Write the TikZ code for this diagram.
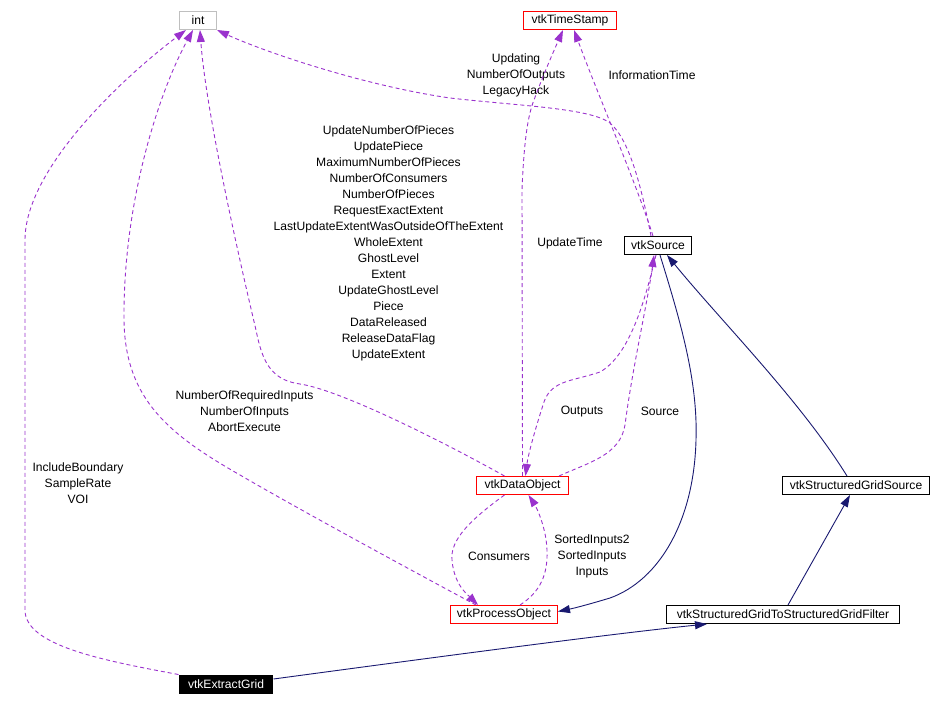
\documentclass[tikz,border=0pt]{standalone}
\usepackage{fontspec}
\setmainfont{Liberation Sans}
\usetikzlibrary{arrows.meta}
\definecolor{dpurple}{HTML}{9A32CD}
\definecolor{dnavy}{HTML}{191970}
\definecolor{dgray}{HTML}{BFBFBF}
\tikzset{
  cls/.style={draw, line width=1pt, minimum height=18pt, inner sep=0pt, font=\fontsize{12.1}{16}\selectfont},
  redbox/.style={cls, draw=red},
  blkbox/.style={cls, draw=black},
  graybox/.style={cls, draw=dgray},
  fillbox/.style={cls, draw=none, fill=black, text=white, minimum height=19pt},
  lbl/.style={align=center, inner sep=0pt, font=\fontsize{12.1}{16}\selectfont},
  use/.style={draw=dpurple, line width=0.9pt, dash pattern=on 4pt off 3pt, -{Triangle[length=12pt,width=8pt,fill=dpurple]}},
  inh/.style={draw=dnavy, line width=0.9pt, -{Triangle[length=12pt,width=8pt,fill=dnavy]}}
}
\begin{document}
\begin{tikzpicture}[x=1pt,y=-1pt]
\useasboundingbox (0,0) rectangle (932,706);
% nodes
\node[graybox, minimum width=37pt] (int) at (198,20.5) {int};
\node[redbox, minimum width=93pt] (ts) at (570,20.5) {vtkTimeStamp};
\node[blkbox, minimum width=67pt] (src) at (658,245.5) {vtkSource};
\node[redbox, minimum width=92pt] (dob) at (522.5,485.5) {vtkDataObject};
\node[redbox, minimum width=107pt] (po) at (504,614.5) {vtkProcessObject};
\node[blkbox, minimum width=147pt] (sgs) at (856,485.5) {vtkStructuredGridSource};
\node[blkbox, minimum width=233pt] (sgf) at (783,614.5) {vtkStructuredGridToStructuredGridFilter};
\node[fillbox, minimum width=94pt] (eg) at (226,684.5) {vtkExtractGrid};
% labels
\node[lbl] (l1) at (516,75) {Updating\\NumberOfOutputs\\LegacyHack};
\node[lbl] (l2) at (652,75) {InformationTime};
\node[lbl] (l3) at (388.5,243.5) {UpdateNumberOfPieces\\UpdatePiece\\MaximumNumberOfPieces\\NumberOfConsumers\\NumberOfPieces\\RequestExactExtent\\LastUpdateExtentWasOutsideOfTheExtent\\WholeExtent\\GhostLevel\\Extent\\UpdateGhostLevel\\Piece\\DataReleased\\ReleaseDataFlag\\UpdateExtent};
\node[lbl] (l4) at (570,243.5) {UpdateTime};
\node[lbl] (l5) at (244.5,411.5) {NumberOfRequiredInputs\\NumberOfInputs\\AbortExecute};
\node[lbl] (l6) at (78,483.5) {IncludeBoundary\\SampleRate\\VOI};
\node[lbl] (l7) at (582,411.5) {Outputs};
\node[lbl] (l8) at (660,411.5) {Source};
\node[lbl] (l9) at (499,556) {Consumers};
\node[lbl] (l10) at (592,556) {SortedInputs2\\SortedInputs\\Inputs};
% usage edges
\draw[use] (eg.north west) .. controls (100,660) and (25,645) .. (25,610) -- (25,240) .. controls (25,170) and (120,80) .. ([xshift=-12pt]int.south);
\draw[use] ([xshift=-28pt]po.north) .. controls (420,575) and (300,510) .. (240,475) .. controls (170,435) and (125,400) .. (124,320) .. controls (123,200) and (160,90) .. ([xshift=-5pt]int.south);
\draw[use] ([xshift=-18pt]dob.north) .. controls (440,440) and (340,390) .. (300,384) .. controls (270,380) and (262,360) .. (256,330) .. controls (230,220) and (205,100) .. ([xshift=2pt]int.south);
\draw[use] ([xshift=-7pt]src.north) .. controls (642,190) and (630,140) .. (610,123) .. controls (590,108) and (520,106) .. (450,98) .. controls (360,85) and (260,50) .. (int.south east);
\draw[use] (dob.north) -- (522,190) .. controls (524,140) and (528,115) .. (534,100) .. controls (542,78) and (552,55) .. ([xshift=-7pt]ts.south);
\draw[use] ([xshift=-5pt]src.north) .. controls (635,180) and (600,100) .. ([xshift=4pt]ts.south);
\draw[use] ([xshift=-2pt]src.south) .. controls (645,300) and (630,355) .. (600,372) .. controls (570,382) and (550,380) .. (543,405) .. controls (535,430) and (528,455) .. ([xshift=3pt]dob.north);
\draw[use] ([xshift=-10pt]dob.north east) .. controls (590,462) and (620,455) .. (625,425) .. controls (632,370) and (648,300) .. ([xshift=-4pt]src.south);
\draw[use] ([xshift=-18pt]dob.south) .. controls (470,520) and (450,540) .. (452,560) .. controls (454,585) and (468,595) .. ([xshift=-26pt]po.north);
\draw[use] ([xshift=16pt]po.north) .. controls (540,592) and (548,575) .. (547,550) .. controls (546,525) and (535,505) .. ([xshift=6pt]dob.south);
% inheritance edges
\draw[inh] ([xshift=2pt]src.south) .. controls (680,320) and (698,380) .. (696,440) .. controls (694,520) and (660,580) .. (610,598) .. controls (590,604) and (575,608) .. ([yshift=3pt]po.east);
\draw[inh] ([xshift=-9pt]sgs.north) .. controls (800,400) and (720,320) .. ([xshift=9pt]src.south);
\draw[inh] ([xshift=5pt]sgf.north) -- ([xshift=-6pt]sgs.south);
\draw[inh] ([yshift=5.5pt]eg.east) .. controls (400,662) and (600,635) .. ([xshift=-76pt]sgf.south);
\end{tikzpicture}
\end{document}
